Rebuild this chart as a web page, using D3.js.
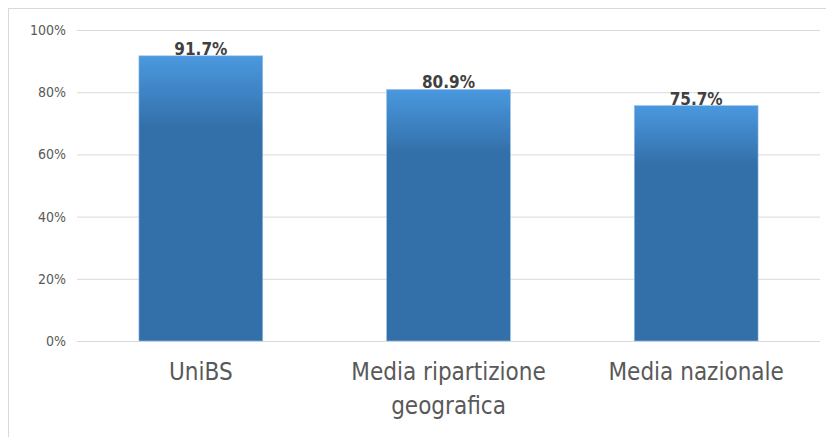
<!DOCTYPE html>
<html>
<head>
<meta charset="utf-8">
<script src="https://cdn.jsdelivr.net/npm/d3@7"></script>
<style>
  body { margin: 0; background: #fff; }
  svg { display: block; }
</style>
</head>
<body>
<svg id="chart" width="826" height="437"></svg>
<script>
// data
const categories = ["UniBS", "Media ripartizione|geografica", "Media nazionale"];
const values = [91.7, 80.9, 75.7];
const yTicks = [0, 20, 40, 60, 80, 100];

const margin = { top: 30, right: 6, bottom: 96, left: 77 };
const width = 826 - margin.left - margin.right;
const height = 437 - margin.top - margin.bottom;
const font = "'Liberation Sans Narrow', 'DejaVu Sans Condensed', sans-serif";

const root = d3.select("#chart");

// outer chart frame
root.append("rect")
    .attr("x", 8.5).attr("y", 8.5)
    .attr("width", 830).attr("height", 440)
    .attr("fill", "none")
    .attr("stroke", "#d9d9d9");

// gradient: lighter top quarter of each bar
const grad = root.append("defs").append("linearGradient")
    .attr("id", "barGrad")
    .attr("x1", 0).attr("y1", 0).attr("x2", 0).attr("y2", 1);
grad.append("stop").attr("offset", "0%").attr("stop-color", "#4a98df");
grad.append("stop").attr("offset", "25%").attr("stop-color", "#3370aa");
grad.append("stop").attr("offset", "100%").attr("stop-color", "#3370aa");

const svg = root.append("g")
    .attr("transform", `translate(${margin.left},${margin.top})`);

const xScale = d3.scaleBand()
    .domain(categories)
    .range([0, width])
    .paddingInner(0.5)
    .paddingOuter(0.25);

const yScale = d3.scaleLinear()
    .domain([0, 100])
    .range([height, 0]);

// gridlines
svg.append("g")
    .selectAll("line")
    .data(yTicks)
    .join("line")
    .attr("x1", 0).attr("x2", width)
    .attr("y1", d => yScale(d) + 0.5).attr("y2", d => yScale(d) + 0.5)
    .attr("stroke", "#d9d9d9")
    .attr("stroke-width", 1);

// y axis labels
const yAxis = svg.append("g")
    .call(d3.axisLeft(yScale).tickValues(yTicks).tickFormat(d => d + "%").tickSize(0).tickPadding(11));
yAxis.select(".domain").remove();
yAxis.selectAll("text")
    .attr("fill", "#595959")
    .style("font-family", font)
    .style("font-size", "14px");

// bars
svg.selectAll("rect.bar")
    .data(values)
    .join("rect")
    .attr("class", "bar")
    .attr("x", (d, i) => xScale(categories[i]))
    .attr("y", d => yScale(d))
    .attr("width", xScale.bandwidth())
    .attr("height", d => height - yScale(d))
    .attr("fill", "url(#barGrad)")
    .attr("stroke", "#9cc3ea")
    .attr("stroke-width", 0.6);

// value labels
svg.selectAll("text.val")
    .data(values)
    .join("text")
    .attr("class", "val")
    .attr("x", (d, i) => xScale(categories[i]) + xScale.bandwidth() / 2)
    .attr("y", d => yScale(d) - 1)
    .attr("text-anchor", "middle")
    .attr("fill", "#404040")
    .style("font-family", font)
    .style("font-weight", "bold")
    .style("font-size", "17px")
    .text(d => d.toFixed(1) + "%");

// category labels
const xAxis = svg.append("g")
    .attr("transform", `translate(0,${height})`)
    .call(d3.axisBottom(xScale).tickSize(0).tickFormat(""));
xAxis.select(".domain").remove();
xAxis.selectAll(".tick").each(function(d) {
    const lines = d.split("|");
    const t = d3.select(this).append("text")
        .attr("text-anchor", "middle")
        .attr("fill", "#595959")
        .style("font-family", font)
        .style("font-size", "24px");
    lines.forEach((l, i) => {
        t.append("tspan").attr("x", 0).attr("y", 39 + i * 34).text(l);
    });
});
</script>
</body>
</html>
